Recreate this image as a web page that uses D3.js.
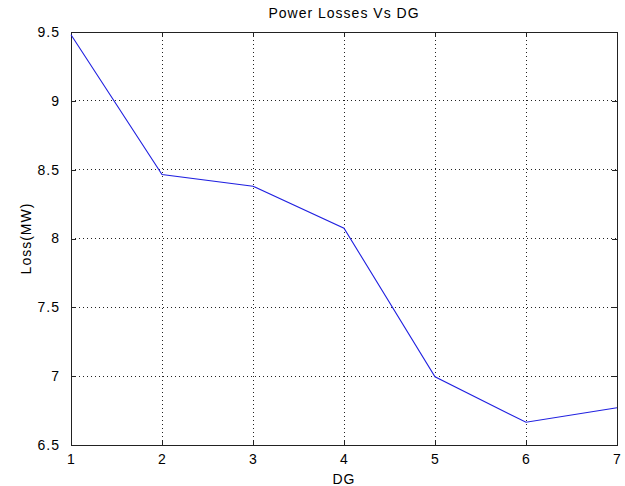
<!DOCTYPE html>
<html>
<head>
<meta charset="utf-8">
<script src="https://cdn.jsdelivr.net/npm/d3@7"></script>
<style>
body{margin:0;background:#fff;}
text{font-family:"Liberation Sans",Arial,sans-serif;font-size:14px;letter-spacing:1px;fill:#000;}
</style>
</head>
<body>
<div id="content"></div>
<script>
// data
var dg = [1, 2, 3, 4, 5, 6, 7];
var loss = [9.48, 8.465, 8.38, 8.075, 6.995, 6.665, 6.77];
var xTicks = [1, 2, 3, 4, 5, 6, 7];
var yTicks = [6.5, 7, 7.5, 8, 8.5, 9, 9.5];

var width = 625, height = 486;
var margin = {'left':71, 'top':32, 'right':8, 'bottom':41};
var w = width - margin.left - margin.right;
var h = height - margin.top - margin.bottom;
var noLabel = function(){return "";};

var svg = d3.select("#content").append("svg")
  .attr("width", width)
  .attr("height", height);

var g = svg.append("g").attr("transform", "translate(" + margin.left + "," + margin.top + ")");

var x = d3.scaleLinear().domain([1, 7]).range([0, w]);
var y = d3.scaleLinear().domain([6.5, 9.5]).range([h, 0]);

// dotted grid
g.selectAll(".vgrid").data(xTicks.slice(1, -1)).enter().append("line")
  .attr("x1", function(d){return x(d);}).attr("x2", function(d){return x(d);})
  .attr("y1", 0).attr("y2", h)
  .attr("stroke", "#222").attr("stroke-width", 1).attr("stroke-dasharray", "1,3")
  .attr("shape-rendering", "crispEdges");
g.selectAll(".hgrid").data(yTicks.slice(1, -1)).enter().append("line")
  .attr("y1", function(d){return y(d);}).attr("y2", function(d){return y(d);})
  .attr("x1", 0).attr("x2", w)
  .attr("stroke", "#222").attr("stroke-width", 1).attr("stroke-dasharray", "1,3")
  .attr("shape-rendering", "crispEdges");

// axes, ticks pointing inward
var axisB = d3.axisBottom(x).tickValues(xTicks).tickSize(-5).tickPadding(9).tickFormat(d3.format("d"));
var axisT = d3.axisTop(x).tickValues(xTicks).tickSize(-5).tickFormat(noLabel);
var axisL = d3.axisLeft(y).tickValues(yTicks).tickSize(-5).tickPadding(11).tickFormat(function(d){return d;});
var axisR = d3.axisRight(y).tickValues(yTicks).tickSize(-5).tickFormat(noLabel);

g.append("g").attr("transform", "translate(0," + h + ")").call(axisB);
g.append("g").call(axisT);
g.append("g").call(axisL);
g.append("g").attr("transform", "translate(" + w + ",0)").call(axisR);

g.selectAll(".domain").attr("stroke", "#222").attr("shape-rendering", "crispEdges");
g.selectAll(".tick line").attr("stroke", "#222").attr("shape-rendering", "crispEdges");
g.selectAll(".tick text").style("font-family", "'Liberation Sans',Arial,sans-serif").style("font-size", "14px").attr("fill", "#000");

// the line
var line = d3.line()
  .x(function(d, i){return x(dg[i]);})
  .y(function(d){return y(d);});

g.append("path")
  .datum(loss)
  .attr("d", line)
  .attr("fill", "none")
  .attr("stroke", "#2020e0")
  .attr("stroke-width", 1.1);

// labels
svg.append("text").attr("x", margin.left + w / 2).attr("y", 18)
  .attr("text-anchor", "middle").text("Power Losses Vs DG");
svg.append("text").attr("x", margin.left + w / 2).attr("y", 484)
  .attr("text-anchor", "middle").text("DG");
svg.append("text").attr("transform", "translate(31," + (margin.top + h / 2) + ") rotate(-90)")
  .attr("text-anchor", "middle").text("Loss(MW)");
</script>
</body>
</html>
